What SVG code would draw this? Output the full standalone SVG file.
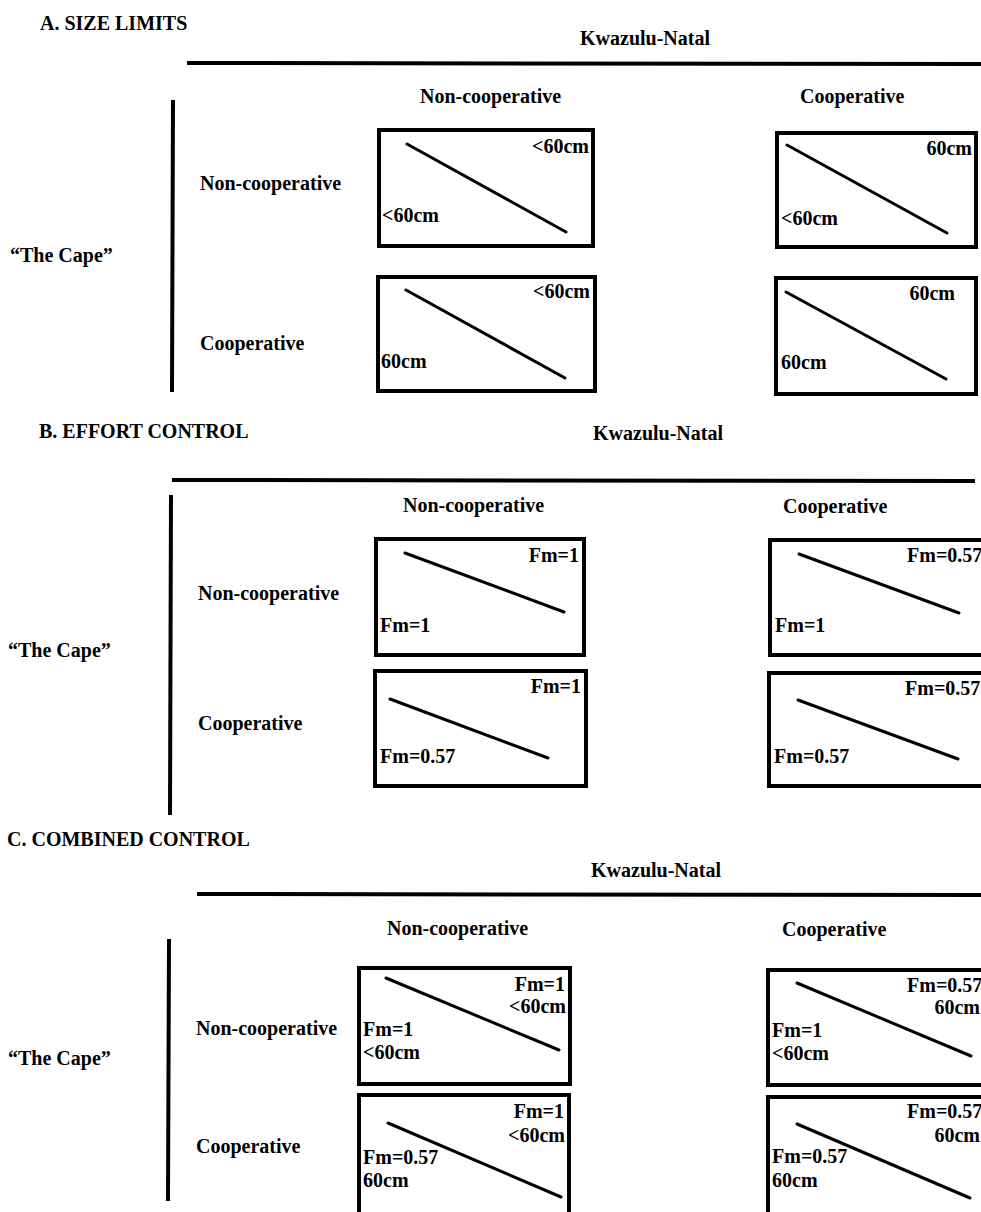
<svg xmlns="http://www.w3.org/2000/svg" width="981" height="1212" viewBox="0 0 981 1212">
<style>
text{font-family:"Liberation Serif","Times New Roman",serif;font-weight:bold;font-size:20px;fill:#000}
.e{text-anchor:end}
.box{fill:none;stroke:#000;stroke-width:4}
.d{stroke:#000;stroke-width:3;stroke-linecap:round}
.rule{stroke:#000;stroke-width:4}
</style>
<rect width="981" height="1212" fill="#fff"/>
<!-- Section A -->
<g id="sectionA-labels">
<text x="40" y="30">A. SIZE LIMITS</text>
<text x="580" y="45">Kwazulu-Natal</text>
<text x="420" y="103">Non-cooperative</text>
<text x="800" y="103">Cooperative</text>
<text x="200" y="190">Non-cooperative</text>
<text x="200" y="350">Cooperative</text>
<text x="10" y="262">“The Cape”</text>
</g>
<g id="A-NN"><rect class="box" x="379" y="130" width="214" height="116"/><text class="e" x="589" y="153">&lt;60cm</text><text x="382" y="222">&lt;60cm</text></g>
<g id="A-CN"><rect class="box" x="378" y="277" width="217" height="114"/><text class="e" x="590" y="298">&lt;60cm</text><text x="381" y="368">60cm</text></g>
<g id="A-NC"><rect class="box" x="777" y="133" width="199" height="114"/><text class="e" x="972" y="155">60cm</text><text x="781" y="225">&lt;60cm</text></g>
<g id="A-CC"><rect class="box" x="776" y="278" width="200" height="116"/><text class="e" x="955" y="300">60cm</text><text x="781" y="369">60cm</text></g>
<!-- Section B -->
<g id="sectionB-labels">
<text x="39" y="438">B. EFFORT CONTROL</text>
<text x="593" y="440">Kwazulu-Natal</text>
<text x="403" y="512">Non-cooperative</text>
<text x="783" y="513">Cooperative</text>
<text x="198" y="600">Non-cooperative</text>
<text x="198" y="730">Cooperative</text>
<text x="8" y="657">“The Cape”</text>
</g>
<g id="B-NN"><rect class="box" x="376" y="539" width="208" height="116"/><text class="e" x="579" y="562">Fm=1</text><text x="380" y="632">Fm=1</text></g>
<g id="B-CN"><rect class="box" x="375" y="671" width="211" height="115"/><text class="e" x="581" y="693">Fm=1</text><text x="380" y="763">Fm=0.57</text></g>
<g id="B-NC"><rect class="box" x="770" y="540" width="222" height="115"/><text x="907" y="562">Fm=0.57</text><text x="775" y="632">Fm=1</text></g>
<g id="B-CC"><rect class="box" x="769" y="673" width="222" height="113"/><text x="905" y="695">Fm=0.57</text><text x="774" y="763">Fm=0.57</text></g>
<!-- Section C -->
<g id="sectionC-labels">
<text x="7" y="846">C. COMBINED CONTROL</text>
<text x="591" y="877">Kwazulu-Natal</text>
<text x="387" y="935">Non-cooperative</text>
<text x="782" y="936">Cooperative</text>
<text x="196" y="1035">Non-cooperative</text>
<text x="196" y="1153">Cooperative</text>
<text x="8" y="1065">“The Cape”</text>
</g>
<g id="C-NN"><rect class="box" x="359" y="968" width="211" height="116"/><text class="e" x="565" y="991">Fm=1</text><text class="e" x="566" y="1013">&lt;60cm</text><text x="363" y="1036">Fm=1</text><text x="363" y="1059">&lt;60cm</text></g>
<g id="C-CN"><rect class="box" x="359" y="1095" width="210" height="130"/><text class="e" x="564" y="1118">Fm=1</text><text class="e" x="565" y="1142">&lt;60cm</text><text x="363" y="1164">Fm=0.57</text><text x="363" y="1187">60cm</text></g>
<g id="C-NC"><rect class="box" x="768" y="970" width="222" height="115"/><text x="907" y="992">Fm=0.57</text><text class="e" x="980" y="1014">60cm</text><text x="772" y="1037">Fm=1</text><text x="772" y="1060">&lt;60cm</text></g>
<g id="C-CC"><rect class="box" x="768" y="1097" width="222" height="130"/><text x="907" y="1118">Fm=0.57</text><text class="e" x="980" y="1142">60cm</text><text x="772" y="1163">Fm=0.57</text><text x="772" y="1187">60cm</text></g>
<g id="connectors">
<line class="rule" x1="187" y1="63" x2="981" y2="64"/>
<line class="rule" x1="173" y1="100" x2="172" y2="392"/>
<line class="rule" x1="172" y1="480" x2="975" y2="481"/>
<line class="rule" x1="171" y1="495" x2="170" y2="815"/>
<line class="rule" x1="197" y1="894" x2="981" y2="895"/>
<line class="rule" x1="169" y1="939" x2="168" y2="1201"/>
<line class="d" x1="407" y1="144" x2="566" y2="232"/>
<line class="d" x1="406" y1="290" x2="565" y2="378"/>
<line class="d" x1="787" y1="145" x2="947" y2="233"/>
<line class="d" x1="786" y1="292" x2="946" y2="379"/>
<line class="d" x1="405" y1="553" x2="564" y2="612"/>
<line class="d" x1="390" y1="699" x2="548" y2="758"/>
<line class="d" x1="799" y1="554" x2="959" y2="613"/>
<line class="d" x1="798" y1="700" x2="958" y2="759"/>
<line class="d" x1="386" y1="978" x2="559" y2="1050"/>
<line class="d" x1="388" y1="1123" x2="561" y2="1197"/>
<line class="d" x1="797" y1="983" x2="971" y2="1056"/>
<line class="d" x1="797" y1="1124" x2="970" y2="1198"/>
</g>
</svg>
